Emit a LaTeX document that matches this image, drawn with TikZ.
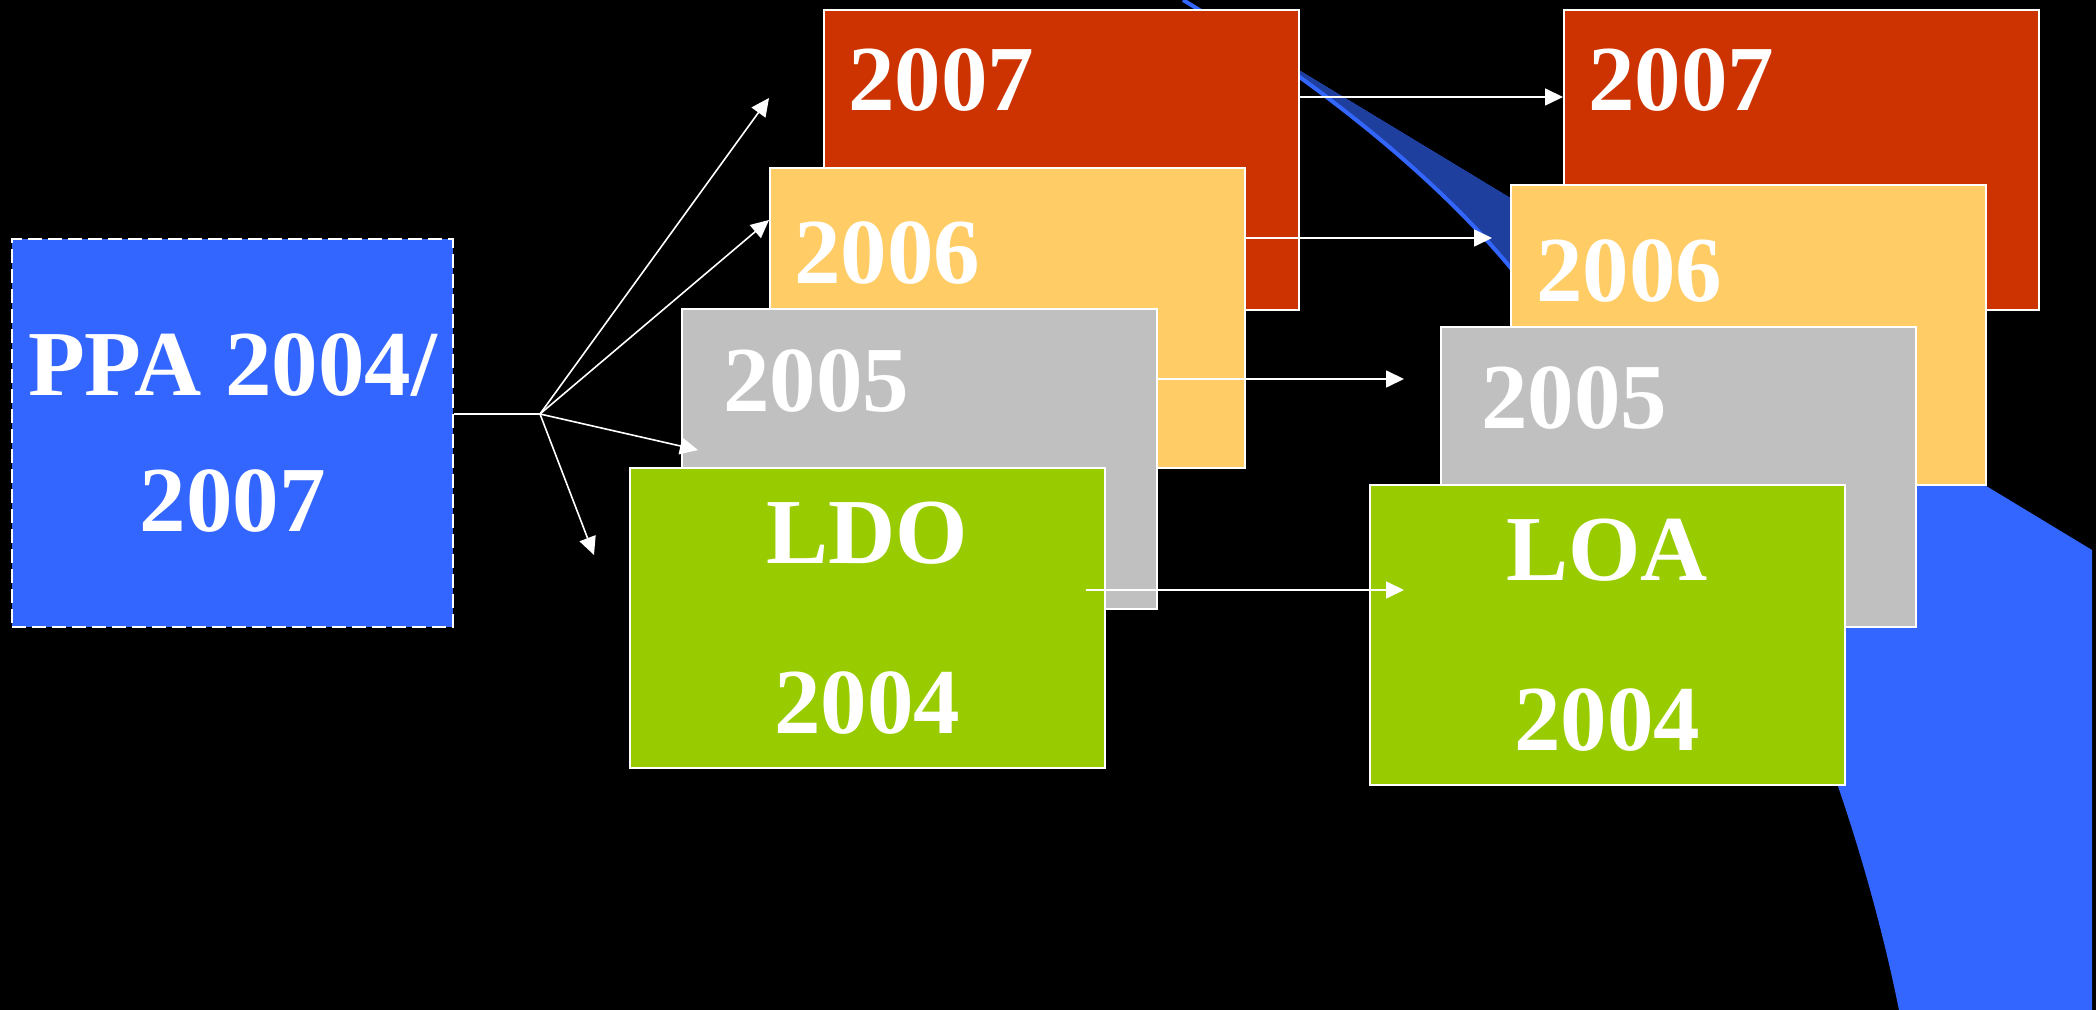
\documentclass[tikz,border=0pt]{standalone}
\usepackage{fontspec}
\setmainfont{Liberation Serif}
\usetikzlibrary{arrows.meta}
\definecolor{redbox}{HTML}{CC3300}
\definecolor{yellowbox}{HTML}{FFCC66}
\definecolor{graybox}{HTML}{C0C0C0}
\definecolor{greenbox}{HTML}{99CC00}
\definecolor{ppablue}{HTML}{3366FF}
\definecolor{swooshdark}{HTML}{1F3F9F}

\begin{document}
\begin{tikzpicture}[x=0.5pt,y=-0.5pt,
    yearbox/.style={draw=white,line width=0.8pt,minimum width=237.5pt,minimum height=150pt,inner sep=0pt,anchor=north west},
    yeartext/.style={text=white,font=\fontsize{46.5}{56}\selectfont\bfseries,inner sep=0pt,anchor=base west},
    arr/.style={draw=white,line width=0.8pt,-{Triangle[length=9pt,width=8.5pt]}}]
        \fill[black] (0,0) rectangle (2096,1010);
        \useasboundingbox (0,0) rectangle (2096,1010);
        % swoosh behind the boxes
        \fill[ppablue] (1183,0) -- (2092,550) -- (2092,1010) -- (1901,1010)
            .. controls (1885,930) and (1862,850) .. (1840,786)
            .. controls (1780,636) and (1620,399) .. (1510,267)
            .. controls (1410,147) and (1263,48) .. (1183,0);
        \begin{scope}
        \clip (1100,0) rectangle (2096,330);
        \fill[swooshdark] (1183,0) -- (2092,550) -- (2092,1010) -- (1901,1010)
            .. controls (1885,930) and (1862,850) .. (1840,786)
            .. controls (1780,636) and (1620,399) .. (1510,267)
            .. controls (1410,147) and (1263,48) .. (1183,0);
        \end{scope}
        \draw[ppablue,line width=2pt] (1901,1010)
            .. controls (1885,930) and (1862,850) .. (1840,786)
            .. controls (1780,636) and (1620,399) .. (1510,267)
            .. controls (1410,147) and (1263,48) .. (1183,0);
        % PPA
        \node[draw=white,line width=1pt,dash pattern=on 7pt off 3pt,fill=ppablue,minimum width=220.5pt,minimum height=194pt,
              anchor=north west,align=center,text=white,font=\fontsize{46.5}{68}\selectfont\bfseries](ppa) at (11,238) {PPA 2004/\\2007};
        % left column
        \node[yearbox,fill=redbox](r1) at (823,9) {};
        \node[yeartext](r1t) at (848,111) {2007};
        \node[yearbox,fill=yellowbox](y1) at (769,167) {};
        \node[yeartext](y1t) at (794,284) {2006};
        \node[yearbox,fill=graybox](g1) at (681,308) {};
        \node[yeartext](g1t) at (723,411) {2005};
        \node[yearbox,fill=greenbox,align=center,text=white,font=\fontsize{46.5}{85}\selectfont\bfseries](ldo) at (629,467) {LDO\\2004};
        % right column
        \node[yearbox,fill=redbox](r2) at (1563,9) {};
        \node[yeartext](r2t) at (1588,111) {2007};
        \node[yearbox,fill=yellowbox](y2) at (1510,184) {};
        \node[yeartext](y2t) at (1536,302) {2006};
        \node[yearbox,fill=graybox](g2) at (1440,326) {};
        \node[yeartext](g2t) at (1481,428) {2005};
        \node[yearbox,fill=greenbox,align=center,text=white,font=\fontsize{46.5}{85}\selectfont\bfseries](loa) at (1369,484) {LOA\\2004};
        % arrows
        \coordinate(j) at (540,414);
        \coordinate(t1) at (769,98);
        \coordinate(t2) at (769,220);
        \coordinate(t3) at (698,450);
        \coordinate(t4) at (594,555);
        \draw[white,line width=0.8pt](ppa.east |- j)--(j);
        \foreach \t in {t1,t2,t3,t4}
            \draw[arr](j)--(\t);
        \coordinate(h1) at (1563,97);
        \coordinate(h2) at (1492,238);
        \coordinate(h3) at (1404,379);
        \coordinate(h4) at (1404,590);
        \coordinate(s4) at (1086,590);
        \draw[arr](r1.east |- h1)--(h1);
        \draw[arr](y1.east |- h2)--(h2);
        \draw[arr](g1.east |- h3)--(h3);
        \draw[arr](s4)--(h4);
\end{tikzpicture}
\end{document}
